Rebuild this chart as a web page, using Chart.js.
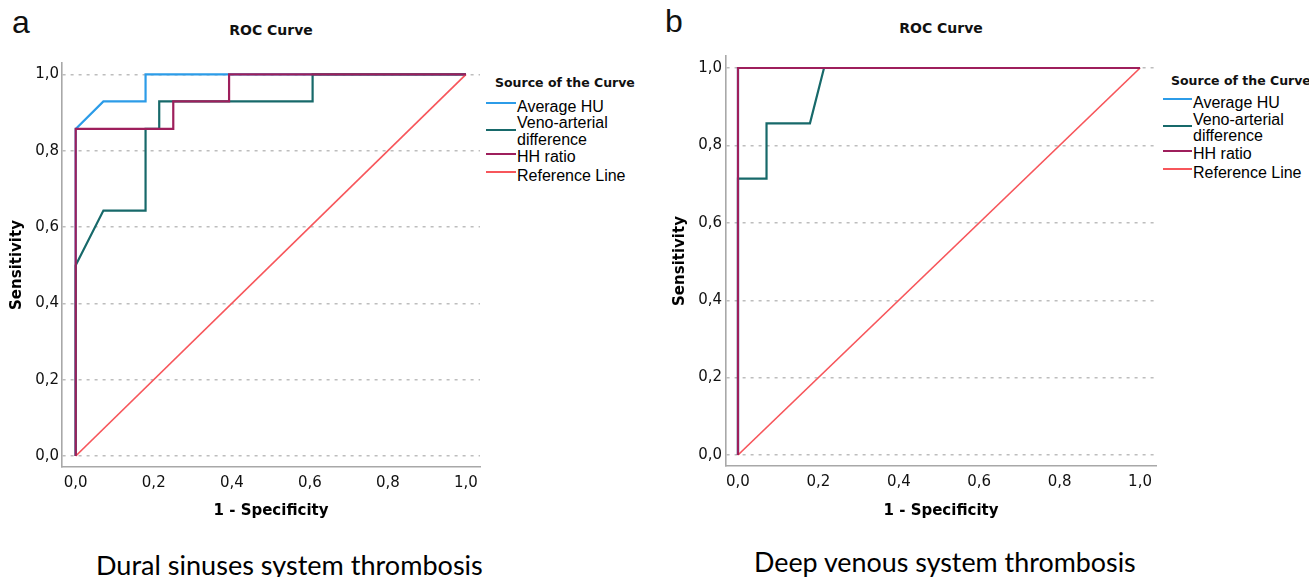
<!DOCTYPE html>
<html>
<head>
<meta charset="utf-8">
<script src="https://cdn.jsdelivr.net/npm/chart.js@4.4.1/dist/chart.umd.min.js"></script>
<style>
  body { margin: 0; width: 1309px; height: 577px; overflow: hidden; background: #fff; position: relative; font-family: "Liberation Sans", Arial, sans-serif; color: #111; }
  .abs { position: absolute; white-space: nowrap; }
  .letter { font-size: 32px; line-height: 32px; }
  .roc { font-family: "DejaVu Sans", sans-serif; font-weight: bold; font-size: 14px; line-height: 16px; transform: translateX(-50%); }
  .lgTitle { font-family: "DejaVu Sans", sans-serif; font-weight: bold; font-size: 12.5px; line-height: 14px; }
  .lgText { font-size: 16px; line-height: 16px; color: #000; }
  .lgLine { position: absolute; height: 2px; }
  .cap { font-family: Lato, "Open Sans", sans-serif; line-height: 1; color: #000; }
  canvas { position: absolute; top: 0; }
</style>
</head>
<body>
<div class="abs letter" style="left:12px;top:6px">a</div>
<div class="abs letter" style="left:665px;top:5px">b</div>
<div class="abs roc" style="left:271px;top:22px">ROC Curve</div>
<div class="abs roc" style="left:941px;top:20px">ROC Curve</div>
<div id="legA"></div>
<div id="legB"></div>
<div class="abs cap" id="capA">Dural sinuses system thrombosis</div>
<div class="abs cap" id="capB">Deep venous system thrombosis</div>
<div style="position:absolute;left:0;top:0;width:490px;height:530px"><canvas id="chartA"></canvas></div>
<div style="position:absolute;left:660px;top:0;width:510px;height:530px"><canvas id="chartB"></canvas></div>
<script>
// series names and colours
const seriesNames = ["Average HU", "Veno-arterial difference", "HH ratio", "Reference Line"];
const seriesColors = ["#2c9ce8", "#17696a", "#9e1f5c", "#f7565b"];

// ticks
const tickVals = [0, 0.2, 0.4, 0.6, 0.8, 1.0];
const tickLabels = ["0,0", "0,2", "0,4", "0,6", "0,8", "1,0"];

// panel a : dural sinuses
const aAvgX = [0, 0, 0.071, 0.179, 0.179, 1];
const aAvgY = [0, 0.857, 0.929, 0.929, 1, 1];
const aVenoX = [0, 0, 0.071, 0.179, 0.179, 0.214, 0.214, 0.607, 0.607, 1];
const aVenoY = [0, 0.5, 0.643, 0.643, 0.857, 0.857, 0.929, 0.929, 1, 1];
const aHHX = [0, 0, 0.25, 0.25, 0.393, 0.393, 1];
const aHHY = [0, 0.857, 0.857, 0.929, 0.929, 1, 1];

// panel b : deep venous
const bAvgX = [0, 0, 1];
const bAvgY = [0, 1, 1];
const bVenoX = [0, 0, 0.071, 0.071, 0.179, 0.214, 1];
const bVenoY = [0, 0.714, 0.714, 0.857, 0.857, 1, 1];
const bHHX = [0, 0, 1];
const bHHY = [0, 1, 1];

const refX = [0, 1];
const refY = [0, 1];

function puntos(xs, ys) {
    return xs.map((x, i) => ({ x: x, y: ys[i] }));
}

function crearGrafico(id, series, cfg) {
    const canvas = document.getElementById(id);
    const ctx = canvas.getContext("2d");
    // draw order: HH ratio on top, then reference, veno, average
    const orden = [3, 2, 0, 1];
    const datasets = series.map((s, i) => ({
        label: seriesNames[i],
        data: puntos(s[0], s[1]),
        borderColor: seriesColors[i],
        borderWidth: i === 3 ? 1.7 : 2.2,
        pointRadius: 0,
        tension: 0,
        fill: false,
        order: orden[i]
    }));
    return new Chart(ctx, {
        type: "line",
        data: { datasets: datasets },
        options: {
            responsive: true,
            maintainAspectRatio: false,
            animation: false,
            layout: { padding: { left: 0, top: cfg.top, right: cfg.right, bottom: 0 } },
            plugins: { legend: { display: false }, tooltip: { enabled: false } },
            scales: {
                x: {
                    type: "linear",
                    min: cfg.xmin, max: cfg.xmax,
                    afterBuildTicks: (sc) => { sc.ticks = tickVals.map(v => ({ value: v })); },
                    afterFit: (sc) => { sc.height = cfg.xh; },
                    ticks: {
                        callback: (v) => tickLabels[tickVals.indexOf(Math.round(v * 10) / 10)],
                        font: { family: "DejaVu Sans", size: 15 },
                        color: "#111",
                        padding: 7,
                        maxRotation: 0
                    },
                    grid: { display: false, drawTicks: false },
                    border: { display: true, color: "#a8a8a8", width: 1.6 },
                    title: {
                        display: true, text: "1 - Specificity", color: "#000",
                        font: { family: "DejaVu Sans", size: 15, weight: "bold" },
                        padding: { top: 0, bottom: 10 }
                    }
                },
                y: {
                    type: "linear",
                    min: cfg.ymin, max: cfg.ymax,
                    afterBuildTicks: (sc) => { sc.ticks = tickVals.map(v => ({ value: v })); },
                    afterFit: (sc) => { sc.width = cfg.yw; },
                    ticks: {
                        callback: (v) => tickLabels[tickVals.indexOf(Math.round(v * 10) / 10)],
                        font: { family: "DejaVu Sans", size: 15 },
                        color: "#111",
                        padding: cfg.ypad
                    },
                    grid: { color: "#bdbdbd", lineWidth: 1.4, drawTicks: false },
                    border: { display: true, color: "#a8a8a8", width: 1.6, dash: [3, 5] },
                    title: {
                        display: true, text: "Sensitivity", color: "#000",
                        font: { family: "DejaVu Sans", size: 15, weight: "bold" },
                        padding: { top: cfg.ytp, bottom: 0 }
                    }
                }
            }
        }
    });
}

crearGrafico("chartA",
    [[aAvgX, aAvgY], [aVenoX, aVenoY], [aHHX, aHHY], [refX, refY]],
    { top: 63, right: 10, xh: 63, yw: 62, ypad: 3, ytp: 8,
      xmin: -0.0351, xmax: 1.0359, ymin: -0.0288, ymax: 1.0296 });

crearGrafico("chartB",
    [[bAvgX, bAvgY], [bVenoX, bVenoY], [bHHX, bHHY], [refX, refY]],
    { top: 56, right: 14, xh: 64, yw: 66, ypad: 4, ytp: 11,
      xmin: -0.0298, xmax: 1.0397, ymin: -0.0284, ymax: 1.031 });

// legends (html)
function leyenda(id, o) {
    const el = document.getElementById(id);
    let h = '<div class="abs lgTitle" style="left:' + o.tx + 'px;top:' + (o.ty - 7) + 'px">Source of the Curve</div>';
    seriesNames.forEach((n, i) => {
        h += '<div class="lgLine" style="left:' + o.lx + 'px;width:' + o.lw + 'px;top:' + (o.ly[i] - 1) + 'px;background:' + seriesColors[i] + '"></div>';
        const partes = n === "Veno-arterial difference" ? ["Veno-arterial", "difference"] : [n];
        partes.forEach((p, k) => {
            h += '<div class="abs lgText" style="left:' + o.x + 'px;top:' + (o.y[i][k] - 8) + 'px">' + p + '</div>';
        });
    });
    el.innerHTML = h;
}
leyenda("legA", { tx: 495, ty: 82.7, lx: 486, lw: 30, x: 517,
    ly: [102.7, 130, 154, 172], y: [[106.7], [123, 140], [157], [175.7]] });
leyenda("legB", { tx: 1171, ty: 80.5, lx: 1163, lw: 29, x: 1193,
    ly: [98.5, 126, 150.7, 169], y: [[103], [119.5, 136], [154], [173]] });

// captions sized to the reference width
function caption(id, left, baseline, ancho) {
    const el = document.getElementById(id);
    el.style.fontSize = "100px";
    const w = el.getBoundingClientRect().width;
    const fs = 100 * ancho / w;
    el.style.fontSize = fs + "px";
    el.style.left = left + "px";
    el.style.top = (baseline - fs * 0.82) + "px";
}
caption("capA", 96, 573, 387);
caption("capB", 754, 571, 382);
</script>
</body>
</html>
